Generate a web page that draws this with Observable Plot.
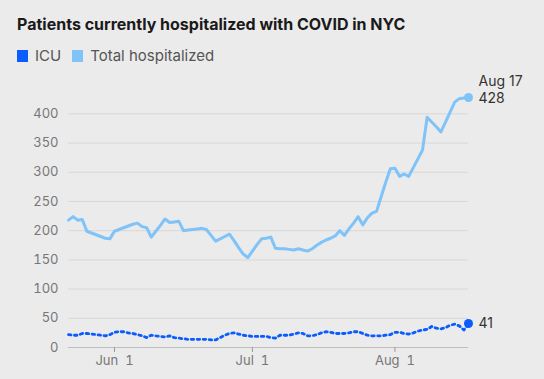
<!DOCTYPE html>
<html>
<head>
<meta charset="utf-8">
<script src="https://cdn.jsdelivr.net/npm/d3@7"></script>
<script src="https://cdn.jsdelivr.net/npm/@observablehq/plot@0.6"></script>
<style>
  html, body { margin: 0; padding: 0; background: #ebebeb; width: 544px; height: 379px; overflow: hidden; position: relative; font-family: Inter, "Noto Sans", sans-serif; }
  #title { position: absolute; left: 17px; top: 14px; font-size: 16px; font-weight: 700; color: #1a1a1a; white-space: nowrap; line-height: 20px; }
  #legend { position: absolute; left: 17px; top: 46px; font-size: 15px; color: #555; display: flex; align-items: center; white-space: nowrap; line-height: 20px; }
  .sw { display: inline-block; width: 11px; height: 12px; margin-right: 7px; }
  .item { display: flex; align-items: center; margin-right: 11px; }
  #chart { position: absolute; left: 0; top: 75px; }
</style>
</head>
<body>
<div id="title">Patients currently hospitalized with COVID in NYC</div>
<div id="legend"></div>
<div id="chart"></div>
<script>
const seriesNames = ["ICU", "Total hospitalized"];
const seriesColors = ["#0a5cff", "#7fc3f8"];
const startDate = "2020-05-22";
const endDate = "2020-08-17";
// Daily values May 22 – Aug 17
const totalValues = [
  218, 224, 218, 219, 199, 196, 193, 190, 187, 186,
  199, 202, 205, 208, 211, 213, 207, 205, 189, 199, 209, 220, 214, 215, 216, 200, 201, 202, 203, 204, 202, 192, 182, 186, 190, 194, 183, 171, 160, 154,
  165, 176, 186, 187, 189, 170, 169, 169, 168, 167, 169, 167, 165, 169, 175, 180, 184, 187, 191, 200, 192, 203, 213, 224, 210, 222, 230, 233, 258, 283, 306,
  307, 293, 297, 293, 308, 323, 338, 394, 386, 378, 369, 386, 403, 420, 426, 427, 428
];
const icuValues = [
  22, 21, 21, 24, 24, 23, 22, 21, 20, 22,
  26, 27, 27, 25, 24, 22, 20, 17, 21, 20, 19, 18, 20, 17, 16, 15, 14, 14, 14, 14, 14, 13, 13, 17, 21, 24, 25, 23, 21, 20,
  19, 19, 19, 19, 17, 16, 21, 21, 21, 23, 25, 24, 20, 20, 22, 25, 27, 26, 24, 24, 24, 25, 27, 27, 24, 21, 20, 20, 20, 21, 22,
  26, 26, 24, 23, 25, 28, 30, 31, 36, 33, 32, 34, 38, 40, 37, 30, 41
];
const yTicks = [0, 50, 100, 150, 200, 250, 300, 350, 400];
const xTickDates = ["2020-06-01", "2020-07-01", "2020-08-01"];
const endLabelTotal = ["Aug 17", "428"];
const endLabelIcu = "41";

const parse = d3.utcParse("%Y-%m-%d");
const dates = d3.utcDay.range(parse(startDate), d3.utcDay.offset(parse(endDate), 1));
const totalData = dates.map((d, i) => ({date: d, value: totalValues[i]}));
const icuData = dates.map((d, i) => ({date: d, value: icuValues[i]}));
const lastTotal = totalData[totalData.length - 1];
const lastIcu = icuData[icuData.length - 1];

// legend
const legend = document.getElementById("legend");
seriesNames.forEach((n, i) => {
  const it = document.createElement("span");
  it.className = "item";
  it.innerHTML = `<span class="sw" style="background:${seriesColors[i]}"></span>${n}`;
  legend.appendChild(it);
});

const fmtMonth = d3.utcFormat("%b");
const fmtDay = d3.utcFormat("%-d");

const chart = Plot.plot({
  width: 544,
  height: 304,
  marginLeft: 68,
  marginRight: 76,
  marginTop: 22,
  marginBottom: 32,
  style: {background: "transparent", fontFamily: "Inter, 'Noto Sans', sans-serif", fontSize: "13px", color: "#777", overflow: "visible"},
  x: {type: "utc", domain: [parse(startDate), parse(endDate)]},
  y: {domain: [0, 428]},
  marks: [
    Plot.gridY(yTicks.filter(t => t > 0), {stroke: "#d7d7d7", strokeOpacity: 1}),
    Plot.axisY(yTicks, {tickSize: 0, tickPadding: 10, label: null, fill: "#777"}),
    Plot.ruleY([0], {stroke: "#bfbfbf"}),
    Plot.axisX(xTickDates.map(parse), {tickSize: 5, tickPadding: 3, label: null, stroke: "#999", fill: "#777",
      tickFormat: d => `${fmtMonth(d)}\u00a0\u00a0${fmtDay(d)}`}),
    Plot.lineY(totalData, {x: "date", y: "value", stroke: seriesColors[1], strokeWidth: 3, curve: "linear"}),
    Plot.lineY(icuData, {x: "date", y: "value", stroke: seriesColors[0], strokeWidth: 2.8, strokeDasharray: "2.5,3.5"}),
    Plot.dot([lastTotal], {x: "date", y: "value", r: 4.5, fill: seriesColors[1]}),
    Plot.dot([lastIcu], {x: "date", y: "value", r: 4.5, fill: seriesColors[0]}),
    Plot.text([lastTotal], {x: "date", y: "value", text: () => endLabelTotal[1], dx: 10, dy: 1, textAnchor: "start", fill: "#333", fontSize: 14}),
    Plot.text([lastTotal], {x: "date", y: "value", text: () => endLabelTotal[0], dx: 10, dy: -16, textAnchor: "start", fill: "#333", fontSize: 14}),
    Plot.text([lastIcu], {x: "date", y: "value", text: () => endLabelIcu, dx: 10, textAnchor: "start", fill: "#333", fontSize: 14})
  ]
});
document.getElementById("chart").appendChild(chart);
</script>
</body>
</html>
